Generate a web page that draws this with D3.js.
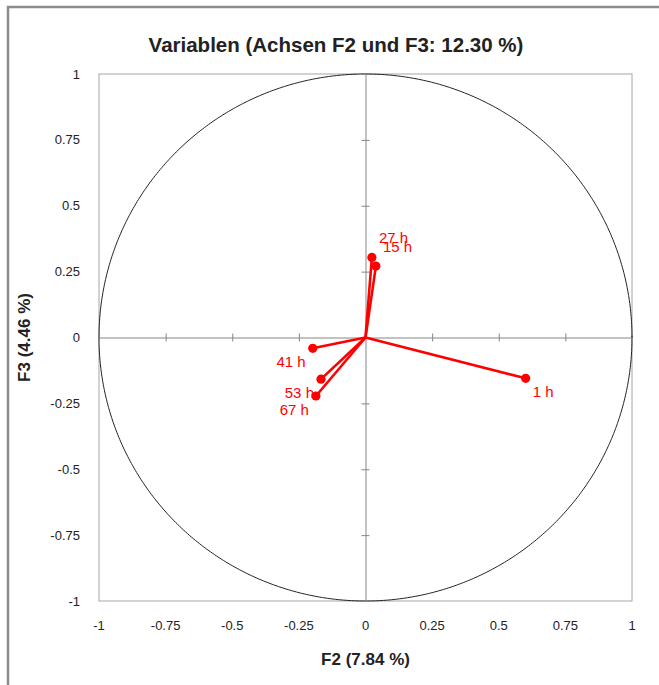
<!DOCTYPE html>
<html>
<head>
<meta charset="utf-8">
<script src="https://cdn.jsdelivr.net/npm/d3@7"></script>
<style>
  body { margin: 0; background: #fff; }
  text { font-family: "Liberation Sans", Arial, sans-serif; }
</style>
</head>
<body>
<div id="chart"></div>
<script>
// variable labels and their coordinates on F2 / F3
const variables = ["1 h", "15 h", "27 h", "41 h", "53 h", "67 h"];
const f2 = [0.601, 0.039, 0.024, -0.198, -0.167, -0.186];
const f3 = [-0.155, 0.271, 0.304, -0.041, -0.158, -0.222];
const ticks = [-1, -0.75, -0.5, -0.25, 0, 0.25, 0.5, 0.75, 1];

const W = 659, H = 685;
const margin = { top: 74, right: 27, bottom: 84, left: 99 };
const width = W - margin.left - margin.right,
    height = H - margin.top - margin.bottom;

const svg = d3.select("#chart")
    .append("svg")
    .attr("width", W)
    .attr("height", H);

// outer chart frame (cut off on right/bottom)
svg.append("path")
    .attr("d", `M8,${H + 5} V7 H${W + 5}`)
    .attr("fill", "none")
    .attr("stroke", "#8c8c8c")
    .attr("stroke-width", 2.5);

const g = svg.append("g")
    .attr("transform", `translate(${margin.left},${margin.top})`);

const x = d3.scaleLinear().domain([-1, 1]).range([0, width]);
const y = d3.scaleLinear().domain([-1, 1]).range([height, 0]);

// plot box
g.append("rect")
    .attr("width", width)
    .attr("height", height)
    .attr("fill", "none")
    .attr("stroke", "#a6a6a6")
    .attr("stroke-width", 1);

// correlation circle
const circle = d3.line()
    .x(d => x(Math.cos(d)))
    .y(d => y(Math.sin(d)));
g.append("path")
    .datum(d3.range(0, 2 * Math.PI + 0.01, 0.01))
    .attr("d", circle)
    .attr("fill", "none")
    .attr("stroke", "#222")
    .attr("stroke-width", 1);

// center axes with ticks
const xAxis = d3.axisBottom(x).tickValues(ticks).tickSize(8).tickFormat("");
const yAxis = d3.axisLeft(y).tickValues(ticks).tickSize(8).tickFormat("");
const gx = g.append("g")
    .attr("transform", `translate(0,${y(0)})`)
    .call(xAxis);
gx.selectAll(".tick line").attr("y1", -4).attr("y2", 4);
const gy = g.append("g")
    .attr("transform", `translate(${x(0)},0)`)
    .call(yAxis);
gy.selectAll(".tick line").attr("x1", -4).attr("x2", 4);
g.selectAll(".domain").attr("stroke", "#868686");
g.selectAll(".tick line").attr("stroke", "#868686");
g.selectAll(".tick").filter(d => d === 0 || Math.abs(d) === 1).remove();

// tick labels along the box edges
g.selectAll(".xlab")
    .data(ticks)
    .enter().append("text")
    .attr("x", d => x(d))
    .attr("y", height + 29)
    .attr("text-anchor", "middle")
    .attr("font-size", 13)
    .attr("fill", "#222")
    .text(d => d);

g.selectAll(".ylab")
    .data(ticks)
    .enter().append("text")
    .attr("x", -19)
    .attr("y", d => y(d) + 4.5)
    .attr("text-anchor", "end")
    .attr("font-size", 13)
    .attr("fill", "#222")
    .text(d => d);

// vectors
const pts = variables.map((v, i) => ({ name: v, x: f2[i], y: f3[i] }));

g.selectAll(".vec")
    .data(pts)
    .enter().append("line")
    .attr("x1", x(0))
    .attr("y1", y(0))
    .attr("x2", d => x(d.x))
    .attr("y2", d => y(d.y))
    .attr("stroke", "#ff0000")
    .attr("stroke-width", 2.6);

g.selectAll(".pt")
    .data(pts)
    .enter().append("circle")
    .attr("cx", d => x(d.x))
    .attr("cy", d => y(d.y))
    .attr("r", 4.6)
    .attr("fill", "#ff0000");

g.selectAll(".lbl")
    .data(pts)
    .enter().append("text")
    .attr("x", d => x(d.x) + (d.x >= 0 ? 7 : -7))
    .attr("y", d => y(d.y) + (d.y >= 0 ? -14 : 19))
    .attr("text-anchor", d => d.x >= 0 ? "start" : "end")
    .attr("font-size", 15)
    .attr("fill", "#ff0000")
    .text(d => d.name);

// title
svg.append("text")
    .attr("x", 336)
    .attr("y", 52)
    .attr("text-anchor", "middle")
    .attr("font-size", 20.5)
    .attr("font-weight", "bold")
    .attr("fill", "#222")
    .text("Variablen (Achsen F2 und F3: 12.30 %)");

// axis titles
svg.append("text")
    .attr("x", margin.left + width / 2)
    .attr("y", 665)
    .attr("text-anchor", "middle")
    .attr("font-size", 17)
    .attr("font-weight", "bold")
    .attr("fill", "#222")
    .text("F2 (7.84 %)");

svg.append("text")
    .attr("transform", `translate(30,${margin.top + height / 2}) rotate(-90)`)
    .attr("text-anchor", "middle")
    .attr("font-size", 17)
    .attr("font-weight", "bold")
    .attr("fill", "#222")
    .text("F3 (4.46 %)");
</script>
</body>
</html>
